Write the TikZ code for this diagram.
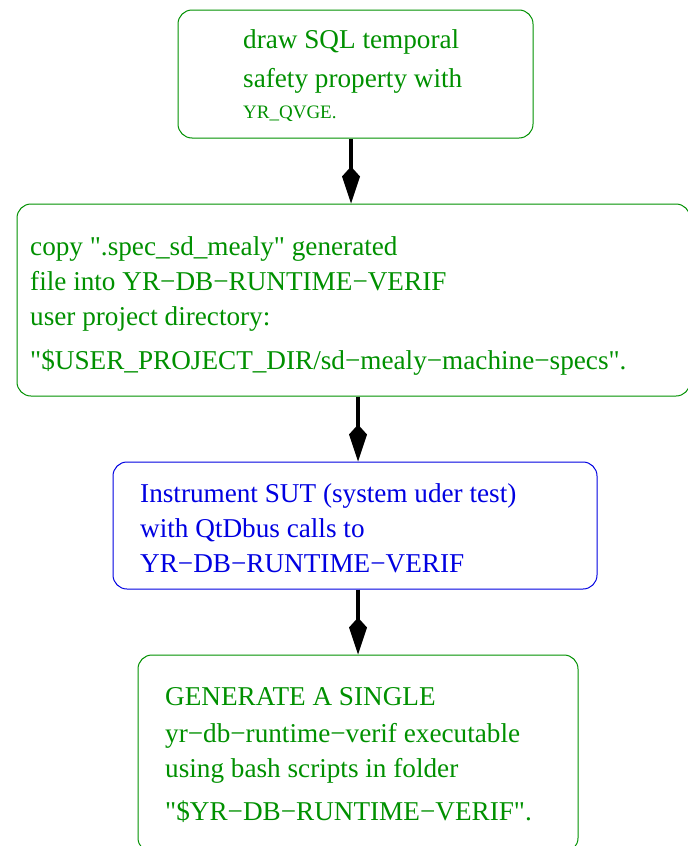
\documentclass[tikz,border=0pt]{standalone}
\usepackage{fontspec}
\setmainfont{Liberation Serif}
\usetikzlibrary{arrows.meta}
\definecolor{figgreen}{RGB}{0,144,0}
\definecolor{figblue}{RGB}{0,0,225}
\begin{document}
\begin{tikzpicture}[x=1pt,y=-1pt]
\tikzstyle{etape}=[draw,rounded corners=14pt,line width=1pt,inner sep=0pt]
\tikzstyle{texte}=[anchor=base west,align=left,inner sep=0pt,font=\fontsize{27.2}{35}\selectfont]
\tikzstyle{fleche}=[line width=4pt,-{Kite[length=37pt,width=18pt,inset=10pt]}]
\useasboundingbox (0,0) rectangle (688,846);

% Etape 1 : dessin de la propriete
\node[etape,figgreen,minimum width=355pt,minimum height=128pt] (B1) at (355.5,74) {};
\node[texte,figgreen] (T1) at (243,118) {draw SQL temporal\\[4pt]safety property with\\[-4pt]{\fontsize{19}{20}\selectfont YR\_QVGE.}};

% Etape 2 : copie du fichier
\node[etape,figgreen,minimum width=673pt,minimum height=192pt] (B2) at (353.5,300) {};
\node[texte,figgreen] (T2) at (30,369) {copy \textquotedbl.spec\_sd\_mealy\textquotedbl{} generated\\file into YR−DB−RUNTIME−VERIF\\user project directory:\\[9pt]\textquotedbl\$USER\_PROJECT\_DIR/sd−mealy−machine−specs\textquotedbl.};

% Etape 3 : instrumentation
\node[etape,figblue,minimum width=484pt,minimum height=127pt] (B3) at (355,525.5) {};
\node[texte,figblue] (T3) at (140,572) {Instrument SUT (system uder test)\\with QtDbus calls to\\YR−DB−RUNTIME−VERIF};

% Etape 4 : generation
\node[etape,figgreen,minimum width=440pt,minimum height=197pt] (B4) at (358,753.5) {};
\node[texte,figgreen] (T4) at (165,820) {GENERATE A SINGLE\\[2pt]yr−db−runtime−verif executable\\using bash scripts in folder\\[8pt]\textquotedbl\$YR−DB−RUNTIME−VERIF\textquotedbl.};

\draw[fleche] ([xshift=-4.5pt]B1.south) -- ([xshift=-2.5pt]B2.north);
\draw[fleche] ([xshift=4.5pt]B2.south) -- ([xshift=3pt]B3.north);
\draw[fleche] ([xshift=3pt]B3.south) -- (B4.north);

\end{tikzpicture}
\end{document}
